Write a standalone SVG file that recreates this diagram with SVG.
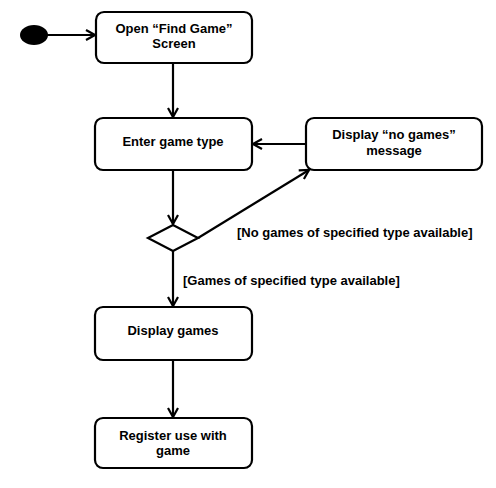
<svg xmlns="http://www.w3.org/2000/svg" width="496" height="488" viewBox="0 0 496 488">
<style>
.box{fill:#fff;stroke:#000;stroke-width:2.2}
.t{font-family:"Liberation Sans",Arial,sans-serif;font-weight:bold;font-size:13px;fill:#000}
.c{text-anchor:middle}
.ln{fill:none;stroke:#000;stroke-width:2.2}
</style>
<defs>
<marker id="a" viewBox="0 0 12 12" refX="11" refY="6" markerWidth="12" markerHeight="12" markerUnits="userSpaceOnUse" orient="auto">
<path d="M2,1 L11,6 L2,11" fill="none" stroke="#000" stroke-width="2.2"/>
</marker>
</defs>
<rect width="496" height="488" fill="#fff"/>
<g id="connectors">
<line class="ln" x1="47" y1="35" x2="95" y2="35" marker-end="url(#a)"/>
<line class="ln" x1="173" y1="63" x2="173" y2="117" marker-end="url(#a)"/>
<line class="ln" x1="306" y1="144" x2="253" y2="144" marker-end="url(#a)"/>
<line class="ln" x1="173" y1="170" x2="173" y2="224" marker-end="url(#a)"/>
<line class="ln" x1="198" y1="238" x2="309" y2="170" marker-end="url(#a)"/>
<line class="ln" x1="173" y1="251" x2="173" y2="306" marker-end="url(#a)"/>
<line class="ln" x1="173" y1="360" x2="173" y2="417" marker-end="url(#a)"/>
<text class="t" x="237" y="237">[No games of specified type available]</text>
<text class="t" x="183" y="285">[Games of specified type available]</text>
</g>
<g id="start"><ellipse cx="34" cy="35" rx="14" ry="10" fill="#000"/></g>
<g id="open-find-game">
<rect class="box" x="96" y="12" width="156" height="51" rx="8"/>
<text class="t c" x="174" y="33">Open “Find Game”</text>
<text class="t c" x="174" y="48">Screen</text>
</g>
<g id="enter-game-type">
<rect class="box" x="95" y="118" width="157" height="52" rx="8"/>
<text class="t c" x="173" y="146">Enter game type</text>
</g>
<g id="display-no-games">
<rect class="box" x="306" y="118" width="176" height="52" rx="8"/>
<text class="t c" x="394" y="139">Display “no games”</text>
<text class="t c" x="394" y="155">message</text>
</g>
<g id="decision">
<polygon points="148,238 173,225 198,238 173,251" fill="#fff" stroke="#000" stroke-width="2.2"/>
</g>
<g id="display-games">
<rect class="box" x="95" y="307" width="157" height="53" rx="8"/>
<text class="t c" x="173" y="335">Display games</text>
</g>
<g id="register-use">
<rect class="box" x="95" y="418" width="157" height="50" rx="8"/>
<text class="t c" x="173" y="440">Register use with</text>
<text class="t c" x="173" y="455">game</text>
</g>
</svg>
